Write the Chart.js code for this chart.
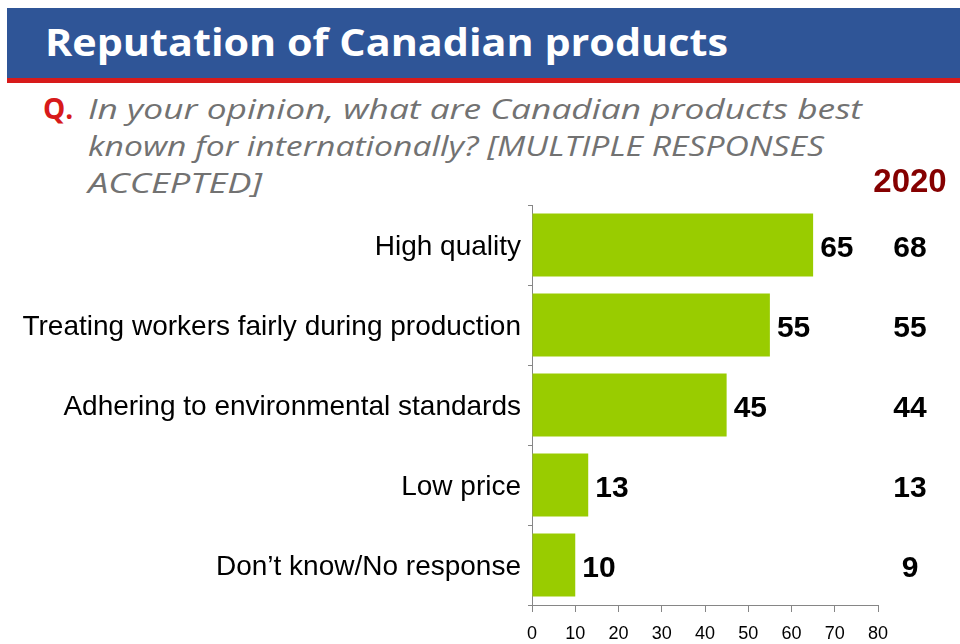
<!DOCTYPE html>
<html>
<head>
<meta charset="utf-8">
<script src="https://cdn.jsdelivr.net/npm/chart.js@4.4.1/dist/chart.umd.min.js"></script>
<style>
  html, body { margin:0; padding:0; width:960px; height:644px; background:#fff; overflow:hidden; }
  #band { position:absolute; left:7px; top:8px; width:953px; height:70px; background:#2F5597; }
  #redline { position:absolute; left:7px; top:78px; width:953px; height:5px; background:#D71A1A; }
  #title { position:absolute; left:45px; top:14px; color:#fff; font-family:"Open Sans", sans-serif; font-weight:700; font-size:37px; line-height:56px; white-space:nowrap; transform-origin:left center; }
  .q { position:absolute; font-family:"Open Sans", sans-serif; font-style:italic; font-size:28px; color:#727272; white-space:nowrap; line-height:36px; transform-origin:left center; }
  #qmark { position:absolute; left:43px; top:90px; font-family:"Open Sans", sans-serif; font-weight:700; font-size:28px; color:#D71A1A; line-height:36px; }
  canvas { position:absolute; left:0; top:0; }
</style>
</head>
<body>
<div id="band"></div>
<div id="redline"></div>
<div id="title">Reputation of Canadian products</div>
<div id="qmark">Q.</div>
<div class="q" id="q1" style="left:88px; top:90px;">In your opinion, what are Canadian products best</div>
<div class="q" id="q2" style="left:88px; top:127px;">known for internationally? [MULTIPLE RESPONSES</div>
<div class="q" id="q3" style="left:88px; top:164px;">ACCEPTED]</div>
<canvas id="c" width="960" height="644"></canvas>
<script>
const categories = ["High quality", "Treating workers fairly during production", "Adhering to environmental standards", "Low price", "Don\u2019t know/No response"];
const values2021 = [65, 55, 45, 13, 10];
const values2020 = [68, 55, 44, 13, 9];
const compareLabel = "2020";
const xTicks = [0, 10, 20, 30, 40, 50, 60, 70, 80];

// fit header text widths
function fitWidth(id, w) {
  const el = document.getElementById(id);
  const cur = el.getBoundingClientRect().width;
  el.style.transform = 'scaleX(' + (w / cur) + ')';
}
fitWidth('title', 683);
fitWidth('q1', 774);
fitWidth('q2', 736);
fitWidth('q3', 174);

const FONT = '"Liberation Sans", Arial, sans-serif';

const labelPlugin = {
  id: 'labels',
  afterDatasetsDraw(chart) {
    const ctx = chart.ctx;
    const meta = chart.getDatasetMeta(0);
    const yScale = chart.scales.y;
    ctx.save();
    ctx.fillStyle = '#000';
    ctx.font = 'bold 30px ' + FONT;
    ctx.textBaseline = 'middle';
    meta.data.forEach((bar, i) => {
      ctx.textAlign = 'left';
      ctx.fillText(String(values2021[i]), bar.x + 7, bar.y + 4);
      ctx.textAlign = 'center';
      ctx.fillText(String(values2020[i]), 910, yScale.getPixelForValue(i) + 4);
    });
    ctx.fillStyle = '#850000';
    ctx.font = 'bold 33px ' + FONT;
    ctx.textAlign = 'center';
    ctx.fillText(compareLabel, 910, 183);
    ctx.restore();
  }
};

new Chart(document.getElementById('c'), {
  type: 'bar',
  data: {
    labels: categories,
    datasets: [{
      data: values2021,
      backgroundColor: '#99CC00',
      borderWidth: 0,
      barPercentage: 0.79,
      categoryPercentage: 1
    }]
  },
  options: {
    indexAxis: 'y',
    responsive: false,
    animation: false,
    devicePixelRatio: 1,
    layout: { padding: { top: 205, right: 82, bottom: 0, left: 0 } },
    plugins: { legend: { display: false }, tooltip: { enabled: false } },
    scales: {
      x: {
        min: 0, max: 80,
        afterBuildTicks(scale) { scale.ticks = xTicks.map(v => ({ value: v })); },
        afterFit(scale) { scale.height = 39; },
        grid: { drawOnChartArea: false, tickLength: 7, color: '#868686', tickWidth: 1 },
        border: { color: '#868686', width: 1 },
        ticks: { font: { family: FONT, size: 18 }, color: '#000', padding: 11, maxRotation: 0 }
      },
      y: {
        afterFit(scale) { scale.width = 532; },
        grid: { drawOnChartArea: false, offset: true, tickLength: 4, color: '#868686' },
        border: { color: '#868686', width: 1 },
        ticks: { font: { family: FONT, size: 28 }, color: '#000', padding: 7, autoSkip: false, labelOffset: 2 }
      }
    }
  },
  plugins: [labelPlugin]
});
</script>
</body>
</html>
